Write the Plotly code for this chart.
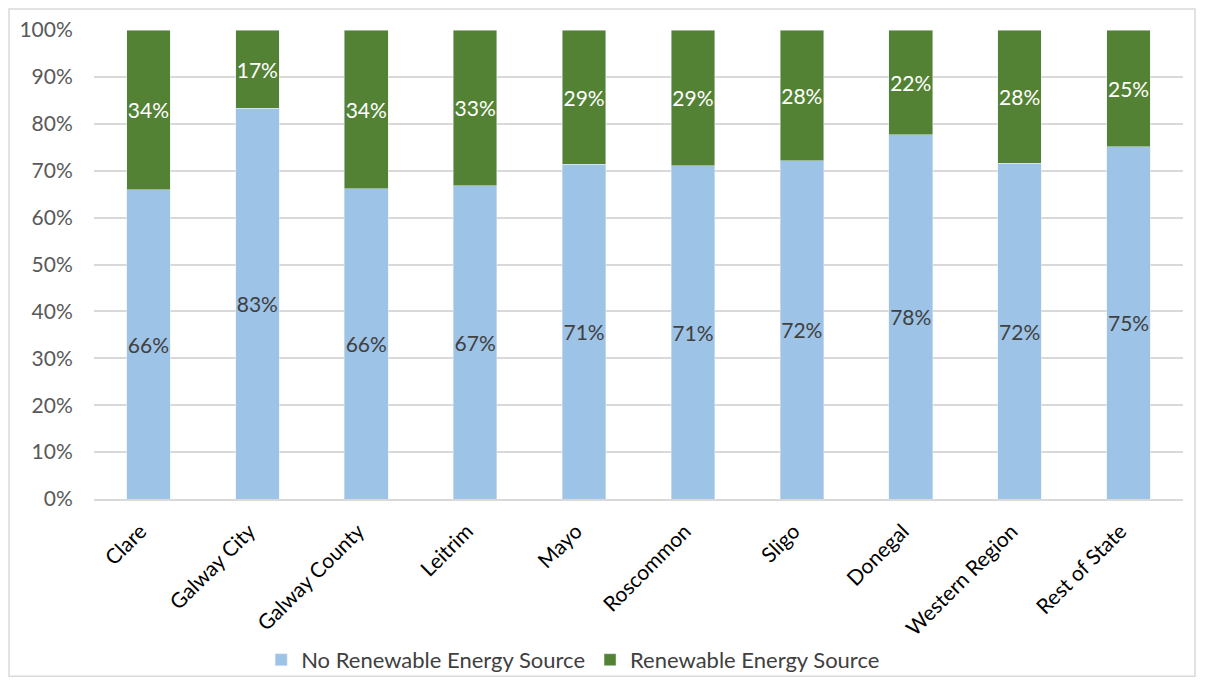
import plotly.graph_objects as go

regions = ["Clare", "Galway City", "Galway County", "Leitrim", "Mayo",
           "Roscommon", "Sligo", "Donegal", "Western Region", "Rest of State"]
no_renewable = [65.9, 83.3, 66.2, 66.8, 71.4, 71.1, 72.1, 77.7, 71.6, 75.1]
renewable = [34.1, 16.7, 33.8, 33.2, 28.6, 28.9, 27.9, 22.3, 28.4, 24.9]
y_ticks = list(range(0, 101, 10))

font_family = "Lato, Open Sans, sans-serif"

fig = go.Figure()
fig.add_trace(go.Bar(
    x=regions, y=no_renewable, name="No Renewable Energy Source",
    marker=dict(color="#9DC3E6"),
    text=[f"{round(v)}%" for v in no_renewable],
    textposition="inside", insidetextanchor="middle", textangle=0,
    textfont=dict(color="#404040", size=21, family=font_family),
))
fig.add_trace(go.Bar(
    x=regions, y=renewable, name="Renewable Energy Source",
    marker=dict(color="#548235"),
    text=[f"{round(v)}%" for v in renewable],
    textposition="inside", insidetextanchor="middle", textangle=0,
    textfont=dict(color="white", size=21, family=font_family),
))

# the page body adds an 8px margin, so the figure is drawn 16px smaller
fig.update_layout(
    barmode="stack", bargap=0.6,
    width=1189, height=670,
    paper_bgcolor="white", plot_bgcolor="white",
    margin=dict(l=86, r=14, t=22, b=179, autoexpand=False),
    font=dict(family=font_family, color="#595959", size=21),
    uniformtext=dict(minsize=21, mode="show"),
    xaxis=dict(tickangle=-45, tickfont=dict(color="#000000", size=21),
               showline=True, linecolor="#D9D9D9", linewidth=1.5,
               ticklabelshift=-8, ticklabelstandoff=10,
               automargin=False),
    yaxis=dict(range=[0, 100], tickvals=y_ticks,
               ticktext=[f"{t}%" for t in y_ticks],
               gridcolor="#D9D9D9", gridwidth=1.5, zeroline=False,
               ticks="outside", ticklen=16, tickcolor="rgba(0,0,0,0)",
               automargin=False),
    legend=dict(orientation="h", x=0.44, xanchor="center",
                yref="container", y=0.027, yanchor="middle",
                font=dict(color="#404040", size=22), traceorder="normal",
                bgcolor="rgba(0,0,0,0)", itemwidth=30),
    shapes=[dict(type="rect", xref="paper", yref="paper",
                 x0=-0.078, x1=1.011, y0=-0.378, y1=1.045,
                 line=dict(color="#D9D9D9", width=1.5))],
)

fig.write_html("out.html")
